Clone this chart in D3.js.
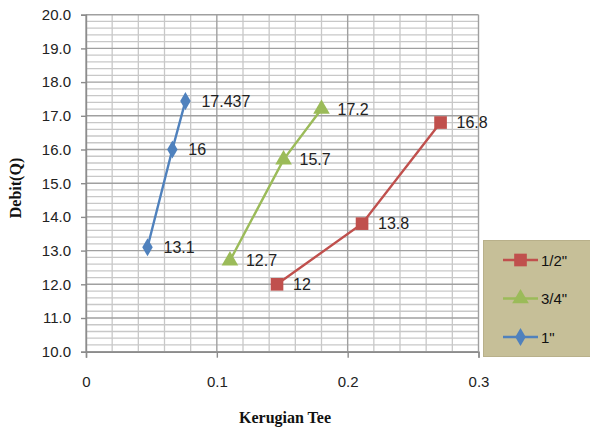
<!DOCTYPE html>
<html>
<head>
<meta charset="utf-8">
<script src="https://cdn.jsdelivr.net/npm/d3@7"></script>
<style>
  html, body { margin: 0; padding: 0; background: #fff; }
  svg { display: block; }
</style>
</head>
<body>
<svg id="chart" width="590" height="432"></svg>
<script>
// Pipe size series: friction loss at a tee (x) against discharge (y)
const seriesNames = ['1/2"', '3/4"', '1"'];
const seriesColors = ["#C0504D", "#9BBB59", "#4F81BD"];
const seriesSymbols = ["square", "triangle", "diamond"];
const halfInchLoss = [0.146, 0.211, 0.271];
const halfInchFlow = [12, 13.8, 16.8];
const threeQuarterLoss = [0.110, 0.151, 0.180];
const threeQuarterFlow = [12.7, 15.7, 17.2];
const oneInchLoss = [0.047, 0.066, 0.076];
const oneInchFlow = [13.1, 16, 17.437];
const xTicks = [0, 0.1, 0.2, 0.3];
const xTickLabels = ["0", "0.1", "0.2", "0.3"];
const yTicks = [10, 11, 12, 13, 14, 15, 16, 17, 18, 19, 20];

const series = [
  { name: seriesNames[0], color: seriesColors[0], symbol: seriesSymbols[0], xs: halfInchLoss, ys: halfInchFlow },
  { name: seriesNames[1], color: seriesColors[1], symbol: seriesSymbols[1], xs: threeQuarterLoss, ys: threeQuarterFlow },
  { name: seriesNames[2], color: seriesColors[2], symbol: seriesSymbols[2], xs: oneInchLoss, ys: oneInchFlow }
];

const svg = d3.select("#chart");
const plot = { left: 86, right: 478.5, top: 14.7, bottom: 351.7 };

const x = d3.scaleLinear().domain([0, 0.3]).range([plot.left, plot.right]);
const y = d3.scaleLinear().domain([10, 20]).range([plot.bottom, plot.top]);

const tickFont = "Liberation Sans, Arial, sans-serif";

// Gridlines: minor first, then major on top
const grid = svg.append("g");
const minorY = d3.range(10, 20.001, 0.2).filter(v => Math.abs(v - Math.round(v)) > 1e-6);
const minorX = d3.range(0, 0.3001, 0.02).filter(v => Math.abs(v * 10 - Math.round(v * 10)) > 1e-6);
grid.selectAll("line.my").data(minorY).join("line")
  .attr("x1", plot.left).attr("x2", plot.right)
  .attr("y1", d => y(d)).attr("y2", d => y(d))
  .attr("stroke", "#c8c8c8").attr("stroke-width", 1.3);
grid.selectAll("line.mx").data(minorX).join("line")
  .attr("x1", d => x(d)).attr("x2", d => x(d))
  .attr("y1", plot.top).attr("y2", plot.bottom)
  .attr("stroke", "#c8c8c8").attr("stroke-width", 1.3);
grid.selectAll("line.My").data(yTicks).join("line")
  .attr("x1", plot.left).attr("x2", plot.right)
  .attr("y1", d => y(d)).attr("y2", d => y(d))
  .attr("stroke", "#a0a0a0").attr("stroke-width", 1.4);
grid.selectAll("line.Mx").data(xTicks).join("line")
  .attr("x1", d => x(d)).attr("x2", d => x(d))
  .attr("y1", plot.top).attr("y2", plot.bottom)
  .attr("stroke", "#a0a0a0").attr("stroke-width", 1.4);

// Axes
const yAxis = d3.axisLeft(y).tickValues(yTicks).tickFormat(d3.format(".1f")).tickSize(5).tickPadding(10);
const yg = svg.append("g").attr("transform", `translate(${plot.left},0)`).call(yAxis);
yg.select(".domain").attr("stroke", "#8c8c8c").attr("stroke-width", 1.4);
yg.selectAll(".tick line").attr("stroke", "#8c8c8c").attr("stroke-width", 1.4);
yg.selectAll("text").attr("font-family", tickFont).attr("font-size", 15).attr("fill", "#222");

const xAxis = d3.axisBottom(x).tickValues(xTicks).tickFormat((d, i) => xTickLabels[i]).tickSize(6).tickPadding(19);
const xg = svg.append("g").attr("transform", `translate(0,${plot.bottom})`).call(xAxis);
xg.select(".domain").attr("stroke", "#8c8c8c").attr("stroke-width", 1.4);
xg.selectAll(".tick line").attr("stroke", "#8c8c8c").attr("stroke-width", 1.4);
xg.selectAll("text").attr("font-family", tickFont).attr("font-size", 15).attr("fill", "#222");

// Axis titles
svg.append("text")
  .attr("x", 285).attr("y", 423)
  .attr("text-anchor", "middle")
  .attr("font-family", "Liberation Serif, DejaVu Serif, serif")
  .attr("font-weight", "bold").attr("font-size", 16)
  .attr("fill", "#111")
  .text("Kerugian Tee");
svg.append("text")
  .attr("transform", "translate(21,188) rotate(-90)")
  .attr("text-anchor", "middle")
  .attr("font-family", "Liberation Serif, DejaVu Serif, serif")
  .attr("font-weight", "bold").attr("font-size", 16)
  .attr("fill", "#111")
  .text("Debit(Q)");

const symbolMap = { square: d3.symbolSquare, triangle: d3.symbolTriangle, diamond: d3.symbolDiamond };
const symbolSize = { square: 160, triangle: 120, diamond: 95 };

const line = d3.line().x(d => x(d[0])).y(d => y(d[1]));

series.forEach(s => {
  const pts = s.xs.map((v, i) => [v, s.ys[i]]);
  const g = svg.append("g");
  g.append("path").datum(pts)
    .attr("d", line)
    .attr("fill", "none")
    .attr("stroke", s.color)
    .attr("stroke-width", 2.4);
  g.selectAll("path.pt").data(pts).join("path")
    .attr("class", "pt")
    .attr("transform", d => `translate(${x(d[0])},${y(d[1])})`)
    .attr("d", d3.symbol().type(symbolMap[s.symbol]).size(symbolSize[s.symbol]))
    .attr("fill", s.color);
  g.selectAll("text.lbl").data(pts).join("text")
    .attr("class", "lbl")
    .attr("x", d => x(d[0]) + 16)
    .attr("y", d => y(d[1]) + 5.5)
    .attr("font-family", tickFont)
    .attr("font-size", 16)
    .attr("fill", "#222")
    .text(d => String(d[1]));
});

// Legend
const legend = svg.append("g");
legend.append("rect")
  .attr("x", 483.5).attr("y", 240.5)
  .attr("width", 110).attr("height", 116)
  .attr("fill", "#c6bf98")
  .attr("stroke", "#b8b08a");
series.forEach((s, i) => {
  const ly = 260 + i * 38.5;
  legend.append("line")
    .attr("x1", 503).attr("x2", 538)
    .attr("y1", ly).attr("y2", ly)
    .attr("stroke", s.color).attr("stroke-width", 2.4);
  legend.append("path")
    .attr("transform", `translate(520.5,${ly})`)
    .attr("d", d3.symbol().type(symbolMap[s.symbol]).size(symbolSize[s.symbol]))
    .attr("fill", s.color);
  legend.append("text")
    .attr("x", 541).attr("y", ly + 5.5)
    .attr("font-family", tickFont)
    .attr("font-size", 15)
    .attr("fill", "#111")
    .text(s.name);
});
</script>
</body>
</html>
